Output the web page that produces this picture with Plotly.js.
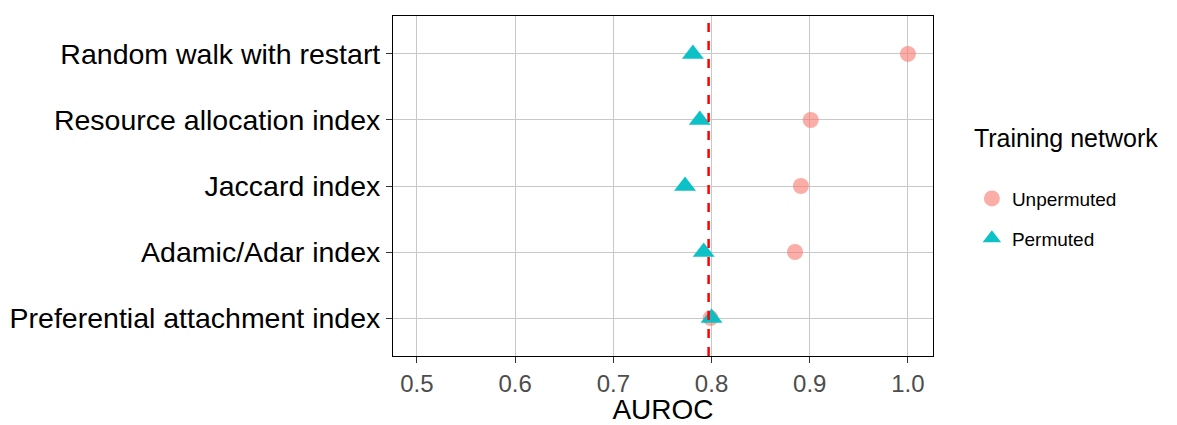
<!DOCTYPE html>
<html><head><script src="https://cdn.plot.ly/plotly-3.0.1.min.js"></script></head>
<body style="margin:0"><div id="chart" style="width:1177px;height:425px"></div>
<script>
const methods = ['Preferential attachment index', 'Adamic/Adar index', 'Jaccard index', 'Resource allocation index', 'Random walk with restart'];
const unpermuted = [0.799, 0.885, 0.891, 0.901, 1.0];
const permuted = [0.800, 0.792, 0.773, 0.788, 0.781];
const baseline = 0.797;
const yIdx = methods.map((m, i) => i);

const traces = [
  { x: unpermuted, y: yIdx, mode: 'markers', type: 'scatter', name: 'Unpermuted', legendgroup: 'a',
    marker: { symbol: 'circle', size: 16, color: 'rgba(248,118,109,0.6)' } },
  { x: permuted, y: yIdx, mode: 'markers', type: 'scatter', name: 'Permuted', legendgroup: 'b',
    marker: { symbol: 'triangle-up', size: 19, color: 'rgba(0,191,196,0.95)' } }
];

const layout = {
  width: 1177, height: 425,
  margin: { l: 393, r: 244, t: 16, b: 69 },
  paper_bgcolor: 'white', plot_bgcolor: 'white',
  font: { family: 'Liberation Sans, Arial', color: 'black' },
  xaxis: {
    range: [0.4756, 1.0255], tickvals: [0.5, 0.6, 0.7, 0.8, 0.9, 1.0],
    ticktext: ['0.5', '0.6', '0.7', '0.8', '0.9', '1.0'],
    tickfont: { size: 24, color: '#4d4d4d' }, ticks: 'outside', ticklen: 6, tickcolor: '#333',
    gridcolor: '#c8c8c8', gridwidth: 1.3, showline: true, linecolor: 'black', mirror: true, zeroline: false,
    title: { text: 'AUROC', font: { size: 28 }, standoff: 6 }
  },
  yaxis: {
    range: [-0.575, 4.575], tickvals: yIdx, ticktext: methods,
    tickfont: { size: 28.5, color: 'black' }, ticks: 'outside', ticklen: 6, tickcolor: '#333',
    gridcolor: '#c8c8c8', gridwidth: 1.3, showline: true, linecolor: 'black', mirror: true, zeroline: false
  },
  shapes: [{ type: 'line', xref: 'x', yref: 'paper', x0: baseline, x1: baseline, y0: 0, y1: 1,
    line: { color: 'red', width: 2.5, dash: 'dash' } }],
  legend: { x: 1.072, y: 0.71, xanchor: 'left', yanchor: 'top',
    title: { text: 'Training network<br> ', font: { size: 25 } },
    font: { size: 19 }, tracegroupgap: 12 },
  showlegend: true
};
Plotly.newPlot('chart', traces, layout, { displayModeBar: false });
</script></body></html>
